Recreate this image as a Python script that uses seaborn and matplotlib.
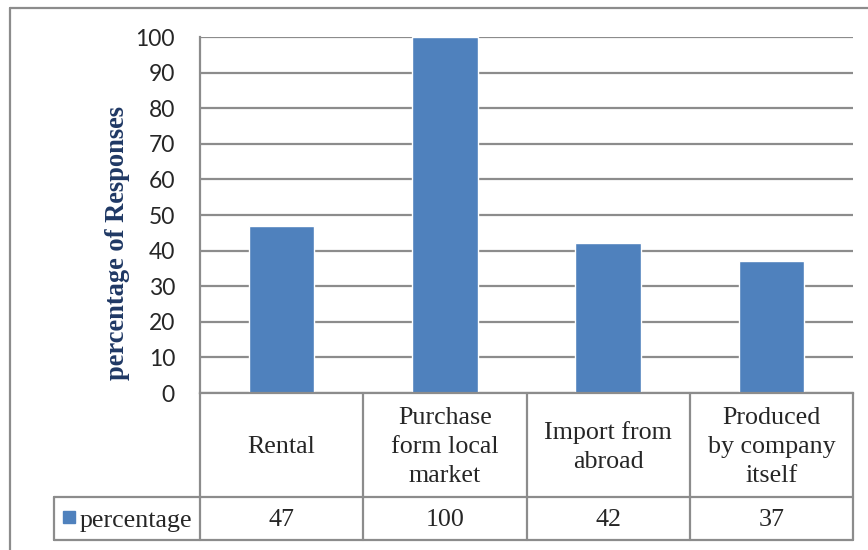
import numpy as np
import pandas as pd
import seaborn as sns
import matplotlib.pyplot as plt
from matplotlib.lines import Line2D
from matplotlib.patches import Rectangle
import matplotlib.transforms as mtransforms

# datos del grafico
categorias = ['Rental', 'Purchase form local market', 'Import from abroad', 'Produced by company itself']
etiquetas = ['Rental', 'Purchase\nform local\nmarket', 'Import from\nabroad', 'Produced\nby company\nitself']
porcentaje = [47, 100, 42, 37]
serie = 'percentage'
ticks_y = list(range(0, 101, 10))

azul = '#4F81BD'
gris = '#8C8C8C'
serif = 'Liberation Serif'

sns.set_style('white')
plt.rcParams['font.family'] = ['Liberation Serif', 'DejaVu Sans']

df = pd.DataFrame({'categoria': categorias, 'valor': porcentaje})

W, H = 868, 550
fig = plt.figure(figsize=(W / 100, H / 100), dpi=100)
ax = fig.add_axes([200 / W, 157 / H, 653 / W, 356 / H])

sns.barplot(x='categoria', y='valor', data=df, color=azul, saturation=1, width=0.4, ax=ax)

ax.set_xlim(-0.5, len(categorias) - 0.5)
ax.set_ylim(0, 100)
ax.set_yticks(ticks_y)
ax.set_yticklabels([str(t) for t in ticks_y], fontsize=16.5, family='Lato')
ax.tick_params(axis='y', length=0, pad=18)
ax.set_xticks([])
ax.set_xlabel('')
ax.set_ylabel('')
ax.yaxis.grid(True, color=gris, linewidth=1.6)
ax.set_axisbelow(True)
for lado in ['top', 'right']:
    ax.spines[lado].set_visible(False)
ax.spines['left'].set_color(gris)
ax.spines['left'].set_linewidth(1.6)
ax.spines['bottom'].set_color(gris)
ax.spines['bottom'].set_linewidth(1.6)

# tabla de datos debajo del grafico
mezcla = mtransforms.blended_transform_factory(ax.transData, ax.transAxes)
y_fila1 = -104 / 356
y_fila2 = -147 / 356
x_leyenda = (54 - 200) / 653
n = len(categorias)
for i in range(n + 1):
    ax.add_line(Line2D([i - 0.5, i - 0.5], [0, y_fila2], transform=mezcla,
                       color=gris, lw=1.6, clip_on=False))
ax.add_line(Line2D([x_leyenda, 1], [y_fila1, y_fila1], transform=ax.transAxes,
                   color=gris, lw=1.6, clip_on=False))
ax.add_line(Line2D([x_leyenda, 1], [y_fila2, y_fila2], transform=ax.transAxes,
                   color=gris, lw=1.6, clip_on=False))
ax.add_line(Line2D([x_leyenda, x_leyenda], [y_fila1, y_fila2], transform=ax.transAxes,
                   color=gris, lw=1.6, clip_on=False))

y_texto = y_fila1 / 2 - 2 / 356
y_valor = (y_fila1 + y_fila2) / 2 - 2 / 356
for i, (lbl, v) in enumerate(zip(etiquetas, porcentaje)):
    ax.text(i, y_texto, lbl, transform=mezcla, ha='center', va='center',
            fontsize=18.7, family=serif, linespacing=1.42)
    ax.text(i, y_valor, str(v), transform=mezcla, ha='center', va='center',
            fontsize=18.7, family=serif)

# leyenda en la tabla
ax.add_patch(Rectangle(((63 - 200) / 653, -(523 - 393) / 356), 12 / 653, 12 / 356,
                       transform=ax.transAxes, color=azul, clip_on=False))
ax.text((80 - 200) / 653, y_valor, serie, transform=ax.transAxes,
        ha='left', va='center', fontsize=18.7, family=serif)

fig.text(118 / W, 1 - 243 / H, 'percentage of Responses', rotation=90, ha='center', va='center',
         fontsize=19.1, fontweight='bold', family=serif, color='#1F3864')

# marco exterior
fig.add_artist(Line2D([10 / W, 1], [1 - 8 / H, 1 - 8 / H], color=gris, lw=1.6))
fig.add_artist(Line2D([10 / W, 10 / W], [0, 1 - 8 / H], color=gris, lw=1.6))

fig.savefig('out.png', dpi=100)
